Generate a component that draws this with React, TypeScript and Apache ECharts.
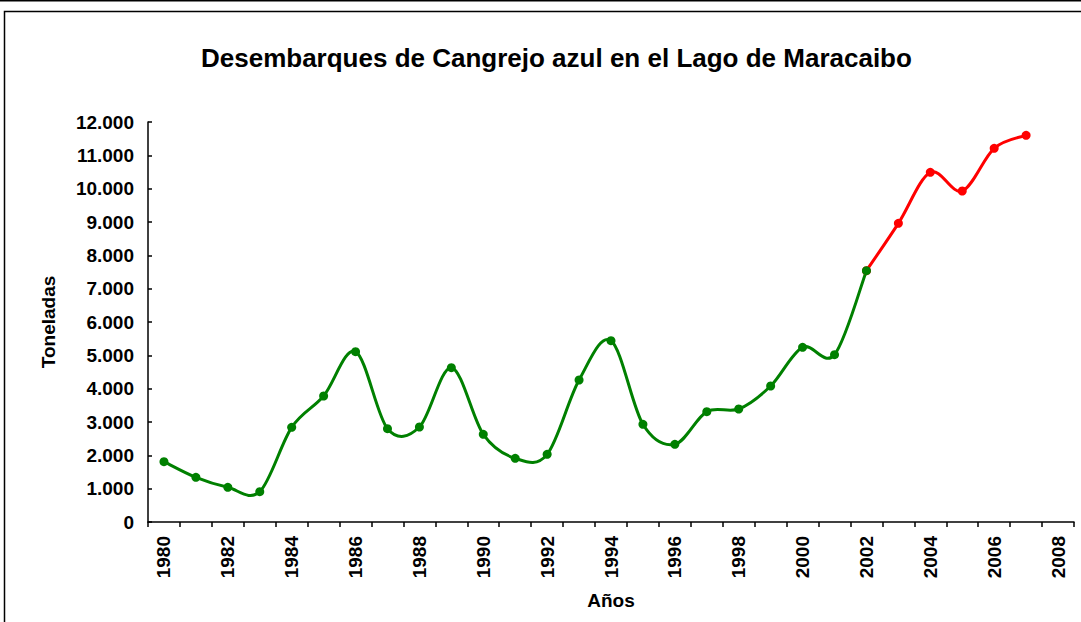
import React, { useEffect, useRef } from "react";
import * as echarts from "echarts";

const years: string[] = [
  "1980","1981","1982","1983","1984","1985","1986","1987","1988","1989",
  "1990","1991","1992","1993","1994","1995","1996","1997","1998","1999",
  "2000","2001","2002","2003","2004","2005","2006","2007","2008",
];

// Toneladas, 1980–2002 (verde)
const greenYears: string[] = [
  "1980","1981","1982","1983","1984","1985","1986","1987","1988","1989",
  "1990","1991","1992","1993","1994","1995","1996","1997","1998","1999",
  "2000","2001","2002",
];
const greenValues: number[] = [
  1810, 1340, 1040, 910, 2840, 3780, 5110, 2800, 2850, 4630,
  2630, 1910, 2030, 4260, 5440, 2930, 2330, 3310, 3390, 4080,
  5240, 5020, 7540,
];

// Toneladas, 2002–2007 (rojo)
const redYears: string[] = ["2002", "2003", "2004", "2005", "2006", "2007"];
const redValues: number[] = [7540, 8960, 10490, 9930, 11210, 11600];

const titleText = "Desembarques de Cangrejo azul en el Lago de Maracaibo";
const yName = "Toneladas";
const xName = "Años";

const FONT = "'Liberation Sans', Arial, sans-serif";

function fmt(v: number): string {
  return String(v).replace(/\B(?=(\d{3})+(?!\d))/g, ".");
}

function pairs(ys: string[], vs: number[]): [string, number][] {
  return ys.map((y, i) => [y, vs[i]] as [string, number]);
}

// Smoothed segment (Excel-like cardinal spline) drawn through the axes' scales
function smoothSegments(ys: string[], vs: number[], color: string) {
  const n = vs.length;
  return (params: any, api: any) => {
    const i = params.dataIndex;
    if (i >= n - 1) return null;
    const P = (k: number) => {
      const kk = Math.max(0, Math.min(n - 1, k));
      return api.coord([years.indexOf(ys[kk]), vs[kk]]);
    };
    const p0 = P(i - 1);
    const p1 = P(i);
    const p2 = P(i + 1);
    const p3 = P(i + 2);
    const t = 1 / 6;
    return {
      type: "bezierCurve",
      shape: {
        x1: p1[0],
        y1: p1[1],
        cpx1: p1[0] + (p2[0] - p0[0]) * t,
        cpy1: p1[1] + (p2[1] - p0[1]) * t,
        cpx2: p2[0] - (p3[0] - p1[0]) * t,
        cpy2: p2[1] - (p3[1] - p1[1]) * t,
        x2: p2[0],
        y2: p2[1],
      },
      style: { stroke: color, lineWidth: 3, fill: "none", lineCap: "round" },
    };
  };
}

export default function App() {
  const ref = useRef<HTMLDivElement>(null);
  useEffect(() => {
    if (!ref.current) return;
    const chart = echarts.init(ref.current, undefined, { renderer: "svg" });
    chart.setOption({
      animation: false,
      backgroundColor: "#ffffff",
      textStyle: { fontFamily: FONT },
      title: {
        text: titleText,
        left: 196,
        top: 40,
        textStyle: { fontFamily: FONT, fontSize: 26, fontWeight: "bold", color: "#000" },
      },
      graphic: [
        {
          type: "rect",
          shape: { x: 4.5, y: 11.5, width: 1200, height: 800 },
          style: { fill: "none", stroke: "#000", lineWidth: 1.5 },
          silent: true,
        },
        {
          type: "line",
          shape: { x1: 0, y1: 0.5, x2: 1081, y2: 0.5 },
          style: { stroke: "#000", lineWidth: 2 },
          silent: true,
        },
      ],
      grid: { left: 148, right: 7, top: 122, bottom: 100 },
      xAxis: {
        type: "category",
        data: years,
        boundaryGap: true,
        name: xName,
        nameLocation: "middle",
        nameGap: 69,
        nameTextStyle: { fontFamily: FONT, fontSize: 19, fontWeight: "bold", color: "#000" },
        axisLine: { lineStyle: { color: "#000", width: 1.5 } },
        axisTick: { show: true, interval: 0, length: 5, lineStyle: { color: "#000", width: 1.5 } },
        axisLabel: {
          interval: 1,
          rotate: 90,
          margin: 14,
          fontFamily: FONT,
          fontSize: 19,
          fontWeight: "bold",
          color: "#000",
        },
        splitLine: { show: false },
      },
      yAxis: {
        type: "value",
        min: 0,
        max: 12000,
        interval: 1000,
        name: yName,
        nameLocation: "middle",
        nameRotate: 90,
        nameGap: 90,
        nameTextStyle: { fontFamily: FONT, fontSize: 19, fontWeight: "bold", color: "#000" },
        axisLine: { show: true, lineStyle: { color: "#000", width: 1.5 } },
        axisTick: { show: true, inside: true, length: 4, lineStyle: { color: "#000", width: 1.5 } },
        axisLabel: {
          margin: 14,
          fontFamily: FONT,
          fontSize: 19,
          fontWeight: "bold",
          color: "#000",
          formatter: (v: number) => fmt(v),
        },
        splitLine: { show: false },
      },
      series: [
        {
          name: "2002-2007 línea",
          type: "custom",
          data: pairs(redYears, redValues),
          renderItem: smoothSegments(redYears, redValues, "#ff0000"),
          encode: { x: 0, y: 1 },
          z: 2,
        },
        {
          name: "1980-2002 línea",
          type: "custom",
          data: pairs(greenYears, greenValues),
          renderItem: smoothSegments(greenYears, greenValues, "#008000"),
          encode: { x: 0, y: 1 },
          z: 3,
        },
        {
          name: "2002-2007",
          type: "scatter",
          data: pairs(redYears, redValues),
          symbol: "circle",
          symbolSize: 9,
          itemStyle: { color: "#ff0000", opacity: 1 },
          z: 4,
        },
        {
          name: "1980-2002",
          type: "scatter",
          data: pairs(greenYears, greenValues),
          symbol: "circle",
          symbolSize: 9,
          itemStyle: { color: "#008000", opacity: 1 },
          z: 5,
        },
      ],
    });
    return () => chart.dispose();
  }, []);
  return (
    <div
      ref={ref}
      style={{ position: "fixed", left: 0, top: 0, width: 1081, height: 622, background: "#fff" }}
    />
  );
}
